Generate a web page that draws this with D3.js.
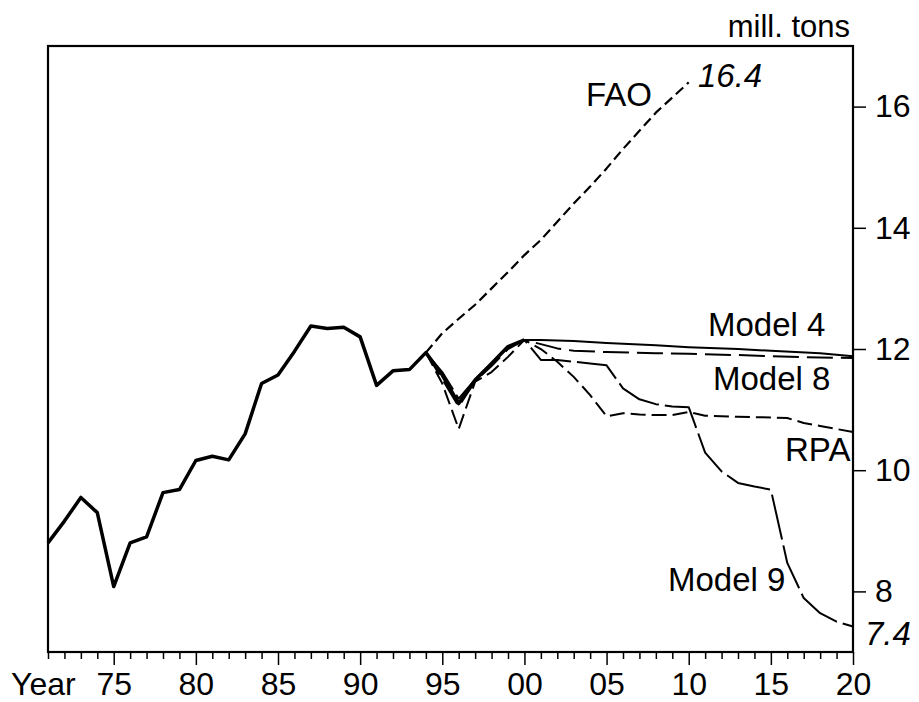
<!DOCTYPE html>
<html>
<head>
<meta charset="utf-8">
<script src="https://cdn.jsdelivr.net/npm/d3@7"></script>
<style>
  body { margin: 0; background: #fff; }
  svg text { font-family: "Liberation Sans", Arial, sans-serif; fill: #000; }
</style>
</head>
<body>
<div id="chart"></div>
<script>
// -- data (mill. tons) ---------------------------------------------------
const histYears  = [1971, 1972, 1973, 1974, 1975, 1976, 1977, 1978, 1979, 1980,
                    1981, 1982, 1983, 1984, 1985, 1986, 1987, 1988, 1989, 1990,
                    1991, 1992, 1993, 1994, 1995, 1996, 1997, 1998, 1999, 2000];
const histValues = [8.80, 9.16, 9.55, 9.30, 8.08, 8.80, 8.90, 9.63, 9.68, 10.16,
                    10.23, 10.17, 10.60, 11.43, 11.57, 11.96, 12.38, 12.34, 12.36, 12.20,
                    11.40, 11.64, 11.66, 11.94, 11.57, 11.10, 11.49, 11.76, 12.04, 12.15];

const faoYears   = [1994, 1995, 1996, 1997, 1998, 1999, 2000, 2001, 2002, 2003,
                    2004, 2005, 2006, 2007, 2008, 2009, 2010];
const faoValues  = [11.94, 12.26, 12.50, 12.73, 13.00, 13.27, 13.55, 13.80, 14.10, 14.40,
                    14.68, 14.98, 15.30, 15.60, 15.90, 16.15, 16.40];

const m4Years    = [2000, 2001, 2003, 2005, 2008, 2010, 2013, 2015, 2018, 2020];
const m4Values   = [12.15, 12.15, 12.13, 12.10, 12.06, 12.03, 12.00, 11.97, 11.93, 11.88];

const m8Years    = [1994, 1995, 1996, 1997, 1998, 1999, 2000, 2001, 2002, 2003,
                    2005, 2008, 2010, 2013, 2015, 2018, 2020];
const m8Values   = [11.94, 11.50, 11.05, 11.47, 11.72, 12.00, 12.15, 12.08, 12.01, 11.97,
                    11.95, 11.93, 11.92, 11.90, 11.88, 11.86, 11.85];

const rpaYears   = [1994, 1995, 1996, 1997, 1998, 1999, 2000, 2001, 2002, 2003,
                    2004, 2005, 2006, 2007, 2008, 2009, 2010, 2011, 2013, 2015,
                    2016, 2017, 2018, 2019, 2020];
const rpaValues  = [11.94, 11.43, 10.68, 11.46, 11.62, 11.87, 12.15, 12.00, 11.79, 11.54,
                    11.24, 10.89, 10.94, 10.92, 10.91, 10.91, 10.96, 10.90, 10.88, 10.87,
                    10.86, 10.78, 10.73, 10.68, 10.63];

const m9Years    = [1994, 1995, 1996, 1997, 1998, 1999, 2000, 2001, 2002, 2003,
                    2004, 2005, 2006, 2007, 2008, 2009, 2010, 2011, 2012, 2013,
                    2014, 2015, 2016, 2017, 2018, 2019, 2020];
const m9Values   = [11.94, 11.62, 11.18, 11.50, 11.76, 12.02, 12.15, 11.82, 11.82, 11.79,
                    11.76, 11.73, 11.35, 11.17, 11.09, 11.05, 11.04, 10.29, 9.98, 9.79,
                    9.73, 9.68, 8.47, 7.89, 7.64, 7.50, 7.42];

const yTicks     = [8, 10, 12, 14, 16];
const majorYears = [1975, 1980, 1985, 1990, 1995, 2000, 2005, 2010, 2015, 2020];

// -- layout ---------------------------------------------------------------
const W = 919, H = 702;
const box = { left: 48, right: 853, top: 46, bottom: 652 };

const x = d3.scaleLinear().domain([1971, 2020]).range([box.left, box.right]);
const y = d3.scaleLinear().domain([7, 17]).range([box.bottom, box.top]);

const svg = d3.select('#chart').append('svg')
  .attr('width', W).attr('height', H)
  .style('display', 'block');

const line = d3.line().x(d => x(d[0])).y(d => y(d[1]));
const zip  = (a, b) => a.map((v, i) => [v, b[i]]);

// -- series -----------------------------------------------------------------
const series = [
  { yrs: histYears, vals: histValues, width: 3.5, dash: null },
  { yrs: faoYears,  vals: faoValues,  width: 2.2, dash: '10,5' },
  { yrs: m4Years,   vals: m4Values,   width: 2,   dash: null },
  { yrs: m8Years,   vals: m8Values,   width: 2,   dash: '26,8' },
  { yrs: rpaYears,  vals: rpaValues,  width: 2,   dash: '15,6' },
  { yrs: m9Years,   vals: m9Values,   width: 2,   dash: '46,6' }
];

svg.append('g').selectAll('path')
  .data(series)
  .join('path')
    .attr('d', s => line(zip(s.yrs, s.vals)))
    .attr('fill', 'none')
    .attr('stroke', '#000')
    .attr('stroke-width', s => s.width)
    .attr('stroke-dasharray', s => s.dash)
    .attr('stroke-linejoin', 'round');

// -- frame -------------------------------------------------------------------
svg.append('rect')
  .attr('x', box.left).attr('y', box.top)
  .attr('width', box.right - box.left).attr('height', box.bottom - box.top)
  .attr('fill', 'none').attr('stroke', '#000').attr('stroke-width', 2.2);

// -- bottom axis: a tick every year, longer every 5 years ---------------------
const xAxis = svg.append('g')
  .attr('transform', `translate(0,${box.bottom})`)
  .call(d3.axisBottom(x)
    .tickValues(d3.range(1971, 2021))
    .tickSize(7)
    .tickFormat(d => majorYears.includes(d) ? String(d % 100).padStart(2, '0') : ''));

xAxis.select('.domain').remove();
xAxis.selectAll('.tick line')
  .attr('stroke-width', 1.5)
  .attr('y2', d => majorYears.includes(d) ? 13 : 7);
xAxis.selectAll('.tick text')
  .attr('y', 43)
  .attr('dy', null)
  .style('font-size', '32px');

svg.append('text')
  .attr('x', 11).attr('y', 695)
  .style('font-size', '32px')
  .text('Year');

// -- right axis ----------------------------------------------------------------
const yAxis = svg.append('g')
  .attr('transform', `translate(${box.right},0)`)
  .call(d3.axisRight(y).tickValues(yTicks).tickSize(13).tickPadding(9));

yAxis.select('.domain').remove();
yAxis.selectAll('.tick line').attr('stroke-width', 1.5);
yAxis.selectAll('.tick text').style('font-size', '32px');

svg.append('text')
  .attr('x', 850).attr('y', 37)
  .attr('text-anchor', 'end')
  .style('font-size', '31px')
  .text('mill. tons');

// -- series labels -----------------------------------------------------------
const labels = [
  { text: 'FAO',     x: 586, y: 106, italic: false },
  { text: '16.4',    x: 698, y: 87,  italic: true },
  { text: 'Model 4', x: 708, y: 336, italic: false },
  { text: 'Model 8', x: 713, y: 390, italic: false },
  { text: 'RPA',     x: 785, y: 461, italic: false },
  { text: 'Model 9', x: 668, y: 591, italic: false },
  { text: '7.4',     x: 865, y: 645, italic: true }
];

svg.append('g').selectAll('text')
  .data(labels)
  .join('text')
    .attr('x', d => d.x).attr('y', d => d.y)
    .style('font-size', '33px')
    .style('font-style', d => d.italic ? 'italic' : 'normal')
    .text(d => d.text);
</script>
</body>
</html>
